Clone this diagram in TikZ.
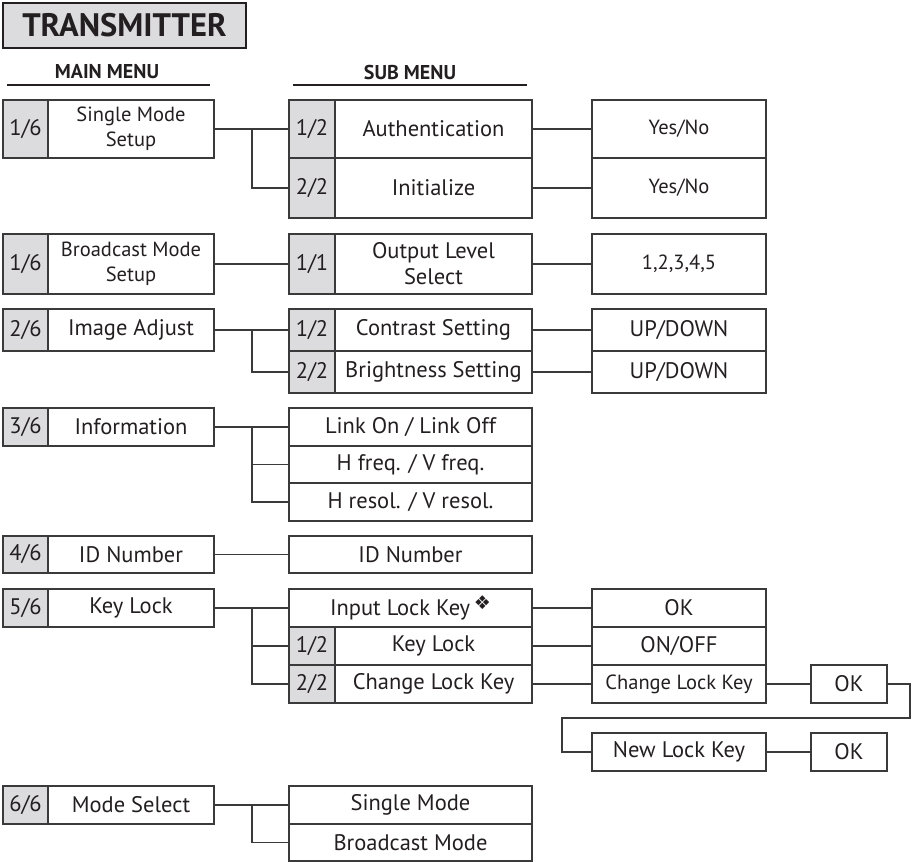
\documentclass[tikz,border=0pt]{standalone}
\usepackage{fontspec}
\setmainfont{PT Sans}
\newfontfamily\symfont{DejaVu Sans}
\definecolor{ln}{HTML}{3A3A3A}
\definecolor{gf}{HTML}{DCDCDE}
\definecolor{tx}{HTML}{231F20}
\newcommand{\bodyf}{\fontsize{22.5}{26}\selectfont}
\newcommand{\smallf}{\fontsize{20.5}{25.5}\selectfont}
\begin{document}
\begin{tikzpicture}[x=1pt,y=-1pt,
  cell/.style={draw=ln, line width=1.2pt, rectangle, inner sep=0pt, align=center, font=\bodyf, text=tx},
  num/.style={cell, fill=gf},
  sm/.style={font=\smallf},
  conn/.style={draw=ln, line width=1.2pt},
  head/.style={font=\fontsize{20}{22}\selectfont\bfseries, text=tx},
  headline/.style={draw=tx, line width=1.8pt}]
\useasboundingbox (0,0) rectangle (914,862);
% title
\node[draw=tx, line width=2.6pt, fill=gf, minimum width=243pt, minimum height=45pt, inner sep=0pt,
  font=\fontsize{32.5}{34}\selectfont\bfseries, text=tx] (title) at (124.5,25.5) {TRANSMITTER};
\node[head] (mainh) at (107,72) {MAIN MENU};
\node[head] (subh) at (410,72) {SUB MENU};
\coordinate (mh1) at (7,85); \coordinate (mh2) at (210,85);
\coordinate (sh1) at (293,85); \coordinate (sh2) at (527,85);
\draw[headline] (mh1) -- (mh2);
\draw[headline] (sh1) -- (sh2);

% ---------- main column: number cells 3-48, text 48-214
\node[num, minimum width=45pt, minimum height=58pt] (mn1) at (25.5,129) {1/6};
\node[cell, sm, minimum width=166pt, minimum height=58pt] (m1) at (131,129) {Single Mode\\Setup};
\node[num, minimum width=45pt, minimum height=60pt] (mn2) at (25.5,264) {1/6};
\node[cell, sm, minimum width=166pt, minimum height=60pt] (m2) at (131,264) {Broadcast Mode\\Setup};
\node[num, minimum width=45pt, minimum height=42pt] (mn3) at (25.5,330) {2/6};
\node[cell, minimum width=166pt, minimum height=42pt] (m3) at (131,330) {Image Adjust};
\node[num, minimum width=45pt, minimum height=38pt] (mn4) at (25.5,427) {3/6};
\node[cell, minimum width=166pt, minimum height=38pt] (m4) at (131,427) {Information};
\node[num, minimum width=45pt, minimum height=37pt] (mn5) at (25.5,554.5) {4/6};
\node[cell, minimum width=166pt, minimum height=37pt] (m5) at (131,554.5) {ID Number};
\node[num, minimum width=45pt, minimum height=38pt] (mn6) at (25.5,608) {5/6};
\node[cell, minimum width=166pt, minimum height=38pt] (m6) at (131,608) {Key Lock};
\node[num, minimum width=45pt, minimum height=38pt] (mn7) at (25.5,805) {6/6};
\node[cell, minimum width=166pt, minimum height=38pt] (m7) at (131,805) {Mode Select};

% ---------- sub column: number 289-335, text 335-532; plain 289-532
\node[num, minimum width=46pt, minimum height=58pt] (sn1a) at (312,129) {1/2};
\node[cell, minimum width=197pt, minimum height=58pt] (s1a) at (433.5,129) {Authentication};
\node[num, minimum width=46pt, minimum height=60pt] (sn1b) at (312,188) {2/2};
\node[cell, minimum width=197pt, minimum height=60pt] (s1b) at (433.5,188) {Initialize};
\node[num, minimum width=46pt, minimum height=60pt] (sn2) at (312,264) {1/1};
\node[cell, minimum width=197pt, minimum height=60pt] (s2) at (433.5,264) {Output Level\\Select};
\node[num, minimum width=46pt, minimum height=42pt] (sn3a) at (312,330) {1/2};
\node[cell, minimum width=197pt, minimum height=42pt] (s3a) at (433.5,330) {Contrast Setting};
\node[num, minimum width=46pt, minimum height=42pt] (sn3b) at (312,372) {2/2};
\node[cell, minimum width=197pt, minimum height=42pt] (s3b) at (433.5,372) {Brightness Setting};
\node[cell, minimum width=243pt, minimum height=38pt] (s4a) at (410.5,427) {Link On / Link Off};
\node[cell, minimum width=243pt, minimum height=37pt] (s4b) at (410.5,464.5) {H freq. / V freq.};
\node[cell, minimum width=243pt, minimum height=38pt] (s4c) at (410.5,502) {H resol. / V resol.};
\node[cell, minimum width=243pt, minimum height=37pt] (s5) at (410.5,554.5) {ID Number};
\node[cell, minimum width=243pt, minimum height=38pt] (s6a) at (410.5,608) {Input Lock Key\,\raisebox{0.3em}{\symfont\fontsize{19}{19}\selectfont ❖}};
\node[num, minimum width=46pt, minimum height=38pt] (sn6b) at (312,646) {1/2};
\node[cell, minimum width=197pt, minimum height=38pt] (s6b) at (433.5,646) {Key Lock};
\node[num, minimum width=46pt, minimum height=38pt] (sn6c) at (312,684) {2/2};
\node[cell, minimum width=197pt, minimum height=38pt] (s6c) at (433.5,684) {Change Lock Key};
\node[cell, minimum width=243pt, minimum height=38pt] (s7a) at (410.5,805) {Single Mode};
\node[cell, minimum width=243pt, minimum height=37pt] (s7b) at (410.5,842.5) {Broadcast Mode};

% ---------- third column 592-766
\node[cell, sm, minimum width=174pt, minimum height=58pt] (t1a) at (679,129) {Yes/No};
\node[cell, sm, minimum width=174pt, minimum height=60pt] (t1b) at (679,188) {Yes/No};
\node[cell, sm, minimum width=174pt, minimum height=60pt] (t2) at (679,264) {1,2,3,4,5};
\node[cell, minimum width=174pt, minimum height=42pt] (t3a) at (679,330) {UP/DOWN};
\node[cell, minimum width=174pt, minimum height=42pt] (t3b) at (679,372) {UP/DOWN};
\node[cell, minimum width=174pt, minimum height=38pt] (t6a) at (679,608) {OK};
\node[cell, minimum width=174pt, minimum height=38pt] (t6b) at (679,646) {ON/OFF};
\node[cell, sm, minimum width=174pt, minimum height=38pt] (t6c) at (679,684) {Change Lock Key};
\node[cell, minimum width=174pt, minimum height=38pt] (nlk) at (679,752) {New Lock Key};
\node[cell, minimum width=76pt, minimum height=38pt] (ok1) at (849,684) {OK};
\node[cell, minimum width=76pt, minimum height=38pt] (ok2) at (849,752) {OK};

% ---------- connectors
\coordinate (b1) at (252,129);
\coordinate (b3) at (252,330);
\coordinate (b4) at (252,427);
\coordinate (b6) at (252,608);
\coordinate (b7) at (252,805);
\draw[conn] (m1.east) -- (sn1a.west);
\draw[conn] (b1) |- (sn1b.west);
\draw[conn] (m2.east) -- (sn2.west);
\draw[conn] (m3.east) -- (sn3a.west);
\draw[conn] (b3) |- (sn3b.west);
\draw[conn] (m4.east) -- (s4a.west);
\draw[conn] (b4) |- (s4b.west);
\draw[conn] (b4) |- (s4c.west);
\draw[conn] (m5.east) -- (s5.west);
\draw[conn] (m6.east) -- (s6a.west);
\draw[conn] (b6) |- (sn6b.west);
\draw[conn] (b6) |- (sn6c.west);
\draw[conn] (m7.east) -- (s7a.west);
\draw[conn] (b7) |- (s7b.west);

\draw[conn] (s1a.east) -- (t1a.west);
\draw[conn] (s1b.east) -- (t1b.west);
\draw[conn] (s2.east) -- (t2.west);
\draw[conn] (s3a.east) -- (t3a.west);
\draw[conn] (s3b.east) -- (t3b.west);
\draw[conn] (s6a.east) -- (t6a.west);
\draw[conn] (s6b.east) -- (t6b.west);
\draw[conn] (s6c.east) -- (t6c.west);
\draw[conn] (t6c.east) -- (ok1.west);
\coordinate (lp1) at (910,718);
\coordinate (lp2) at (562,718);
\draw[conn] (ok1.east) -| (lp1) -- (lp2) |- (nlk.west);
\draw[conn] (nlk.east) -- (ok2.west);
\end{tikzpicture}
\end{document}
